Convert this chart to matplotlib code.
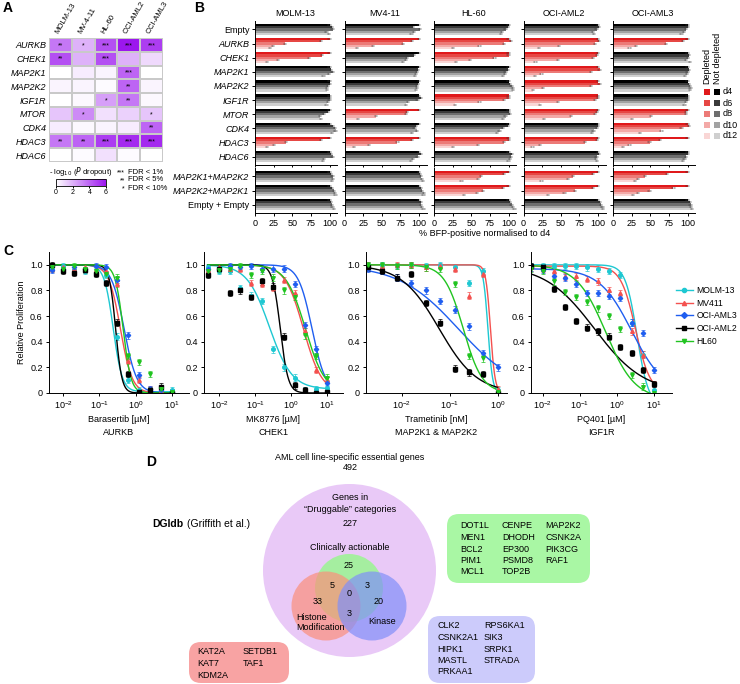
import numpy as np
import matplotlib
matplotlib.use('Agg')
from matplotlib import pyplot as plt
from matplotlib.patches import Circle, FancyBboxPatch, Rectangle
from matplotlib.lines import Line2D
from matplotlib.colors import LinearSegmentedColormap

plt.rcParams['font.family'] = ['Liberation Sans', 'DejaVu Sans']
plt.rcParams['font.size'] = 6.5
plt.rcParams['axes.linewidth'] = 0.7
plt.rcParams['xtick.major.width'] = 0.7
plt.rcParams['ytick.major.width'] = 0.7
plt.rcParams['xtick.major.size'] = 2.5
plt.rcParams['ytick.major.size'] = 2.5

# ---------------- A: heatmap data
heat_genes = ['AURKB', 'CHEK1', 'MAP2K1', 'MAP2K2', 'IGF1R', 'MTOR', 'CDK4', 'HDAC3', 'HDAC6']
heat_lines = ['MOLM-13', 'MV-4-11', 'HL-60', 'OCI-AML2', 'OCI-AML3']
heat_vals = [
    [3.5, 2.0, 4.5, 6.0, 5.0],
    [4.5, 2.0, 4.5, 2.0, 1.0],
    [0.0, 0.5, 0.3, 4.0, 0.0],
    [0.3, 0.3, 0.1, 4.0, 0.3],
    [0.0, 0.2, 2.5, 3.5, 0.2],
    [1.5, 3.0, 0.8, 1.2, 1.5],
    [0.5, 0.2, 0.3, 0.5, 4.0],
    [3.5, 4.0, 5.0, 5.5, 5.5],
    [0.0, 0.1, 0.8, 0.1, 0.0],
]
heat_stars = [
    ['**', '*', '***', '***', '***'],
    ['**', '', '***', '', ''],
    ['', '', '', '***', ''],
    ['', '', '', '**', ''],
    ['', '', '*', '**', ''],
    ['', '*', '', '', '*'],
    ['', '', '', '', '**'],
    ['**', '**', '***', '***', '***'],
    ['', '', '', '', ''],
]

# ---------------- B: BFP depletion data (d6, d8, d10, d12; d4 = 100)
b_rows = ['Empty', 'AURKB', 'CHEK1', 'MAP2K1', 'MAP2K2', 'IGF1R', 'MTOR', 'CDK4', 'HDAC3', 'HDAC6',
          'MAP2K1+MAP2K2', 'MAP2K2+MAP2K1', 'Empty + Empty']
b_italic = ['AURKB', 'CHEK1', 'MAP2K1', 'MAP2K2', 'IGF1R', 'MTOR', 'CDK4', 'HDAC3', 'HDAC6',
            'MAP2K1+MAP2K2', 'MAP2K2+MAP2K1']
b_lines = ['MOLM-13', 'MV4-11', 'HL-60', 'OCI-AML2', 'OCI-AML3']
b_days = ['d4', 'd6', 'd8', 'd10', 'd12']
b_d4 = 100
b_err = 1.5

molm13 = [[103, 104, 96, 99], [89, 40, 24, 20], [90, 72, 31, 16], [102, 104, 99, 92],
          [100, 98, 97, 97], [101, 100, 98, 96], [98, 93, 87, 89], [104, 107, 108, 103],
          [89, 42, 25, 16], [102, 104, 93, 91], [102, 104, 105, 103], [103, 106, 107, 108],
          [102, 103, 104, 106]]
mv411 = [[92, 101, 93, 90], [91, 78, 38, 17], [93, 84, 82, 78], [99, 97, 96, 95],
         [98, 97, 97, 96], [102, 98, 85, 82], [84, 82, 42, 18], [96, 94, 97, 91],
         [91, 71, 33, 13], [102, 98, 92, 89], [101, 103, 104, 105], [102, 104, 107, 106],
         [102, 103, 104, 106]]
hl60 = [[99, 96, 91, 90], [103, 94, 61, 25], [100, 81, 48, 30], [99, 96, 95, 93],
        [102, 104, 106, 106], [100, 94, 61, 28], [100, 102, 96, 93], [99, 93, 88, 84],
        [101, 94, 59, 25], [104, 103, 102, 100], [94, 63, 59, 37], [93, 66, 58, 40],
        [102, 104, 106, 108]]
ociaml2 = [[101, 98, 93, 95], [101, 96, 48, 21], [99, 93, 46, 16], [102, 91, 24, 15],
           [102, 91, 26, 13], [100, 96, 46, 22], [99, 96, 64, 28], [100, 99, 94, 92],
           [99, 82, 22, 12], [101, 98, 97, 99], [93, 66, 60, 24], [93, 69, 55, 33],
           [102, 104, 106, 107]]
ociaml3 = [[100, 98, 95, 92], [94, 71, 31, 22], [102, 101, 98, 103], [102, 100, 99, 97],
           [102, 103, 104, 103], [101, 100, 98, 96], [98, 98, 51, 25], [102, 92, 65, 36],
           [63, 49, 22, 13], [100, 98, 96, 94], [72, 43, 34, 29], [81, 49, 34, 27],
           [103, 104, 105, 106]]
b_values = [molm13, mv411, hl60, ociaml2, ociaml3]

dep_molm13 = ['AURKB', 'CHEK1', 'HDAC3']
dep_mv411 = ['AURKB', 'MTOR', 'HDAC3']
dep_hl60 = ['AURKB', 'CHEK1', 'IGF1R', 'HDAC3', 'MAP2K1+MAP2K2', 'MAP2K2+MAP2K1']
dep_ociaml2 = ['AURKB', 'CHEK1', 'MAP2K1', 'MAP2K2', 'IGF1R', 'MTOR', 'HDAC3',
               'MAP2K1+MAP2K2', 'MAP2K2+MAP2K1']
dep_ociaml3 = ['AURKB', 'MTOR', 'CDK4', 'HDAC3', 'MAP2K1+MAP2K2', 'MAP2K2+MAP2K1']
b_depleted = [dep_molm13, dep_mv411, dep_hl60, dep_ociaml2, dep_ociaml3]

red_shades = ['#e0191b', '#e64744', '#ec7a77', '#f3a9a7', '#f9d6d5']
grey_shades = ['#000000', '#3a3a3a', '#6e6e6e', '#a2a2a2', '#cfcfcf']

# ---------------- C: dose response
c_lines = ['MOLM-13', 'MV411', 'OCI-AML3', 'OCI-AML2', 'HL60']
c_colors = ['#1ec8d2', '#f4514f', '#1f5ef0', '#000000', '#21c421']
c_markers = ['o', '^', 'D', 's', 'v']

dose_uM = [0.0049, 0.0098, 0.0195, 0.039, 0.078, 0.156, 0.3125, 0.625, 1.25, 2.5, 5, 10]
dose_nM = [0.00195, 0.0039, 0.0078, 0.0156, 0.031, 0.0625, 0.125, 0.25, 0.5, 1]

barasertib_vals = [
    [0.97, 0.99, 0.96, 0.95, 0.94, 0.92, 0.44, 0.10, 0.02, 0.02, 0.02, 0.02],
    [0.97, 0.98, 0.97, 0.98, 0.96, 0.95, 0.85, 0.25, 0.10, 0.03, 0.02, 0.01],
    [0.96, 0.97, 0.98, 0.97, 0.99, 0.98, 0.88, 0.45, 0.14, 0.03, 0.02, 0.01],
    [1.00, 0.95, 0.94, 0.96, 0.93, 0.86, 0.55, 0.15, 0.01, 0.02, 0.05, 0.00],
    [0.98, 0.97, 0.99, 0.97, 0.95, 0.93, 0.90, 0.29, 0.24, 0.15, 0.03, 0.01],
]
mk8776_vals = [
    [0.98, 0.95, 0.95, 0.82, 0.76, 0.72, 0.34, 0.20, 0.12, 0.02, 0.03, 0.04],
    [0.96, 0.98, 0.97, 0.97, 0.86, 0.85, 0.82, 0.88, 0.78, 0.48, 0.18, 0.10],
    [0.97, 0.97, 0.99, 0.98, 0.99, 0.97, 0.97, 0.97, 0.85, 0.53, 0.34, 0.08],
    [0.92, 0.97, 0.78, 0.80, 0.75, 0.87, 0.83, 0.44, 0.06, 0.02, 0.00, 0.01],
    [0.95, 0.96, 0.97, 0.99, 0.92, 0.95, 0.90, 0.80, 0.75, 0.45, 0.29, 0.12],
]
trametinib_vals = [
    [1.00, 1.00, 0.99, 1.00, 0.99, 1.00, 0.98, 0.86, 0.95, 0.02],
    [1.00, 0.99, 1.00, 1.00, 0.98, 0.99, 0.97, 0.76, 0.93, 0.03],
    [0.97, 0.95, 0.90, 0.86, 0.80, 0.72, 0.65, 0.52, 0.31, 0.20],
    [0.98, 0.95, 0.90, 0.93, 0.70, 0.55, 0.19, 0.16, 0.15, 0.00],
    [1.00, 1.00, 0.99, 1.00, 0.98, 0.97, 0.85, 0.29, 0.27, 0.01],
]
pq401_vals = [
    [0.99, 0.99, 0.99, 0.99, 0.99, 0.98, 0.97, 0.95, 0.92, 0.55, 0.30, 0.02],
    [0.98, 0.97, 0.95, 0.91, 0.91, 0.89, 0.87, 0.80, 0.78, 0.48, 0.30, 0.07],
    [0.98, 0.96, 0.91, 0.90, 0.85, 0.78, 0.78, 0.76, 0.74, 0.55, 0.47, 0.18],
    [0.99, 0.98, 0.81, 0.67, 0.56, 0.51, 0.48, 0.44, 0.36, 0.31, 0.18, 0.07],
    [0.97, 0.95, 0.87, 0.79, 0.75, 0.71, 0.66, 0.60, 0.50, 0.14, 0.05, 0.00],
]
c_err = 0.025

# fitted curves: (top, bottom, IC50, hill)
barasertib_fit = [(1.0, 0.01, 0.24, 3.5), (1.0, 0.0, 0.38, 2.7), (1.0, 0.0, 0.48, 2.5),
                  (1.0, 0.0, 0.28, 5.0), (1.0, 0.0, 0.45, 4.0)]
mk8776_fit = [(1.0, 0.03, 0.25, 1.4), (1.0, 0.0, 2.2, 1.7), (1.0, 0.0, 3.8, 2.3),
              (1.0, 0.0, 0.5, 4.0), (1.0, 0.0, 2.5, 1.6)]
trametinib_fit = [(1.0, 0.0, 0.62, 9.0), (1.0, 0.0, 0.70, 9.0), (1.0, 0.0, 0.15, 0.7),
                  (1.0, 0.0, 0.06, 1.1), (1.0, 0.0, 0.19, 2.2)]
pq401_fit = [(1.0, -0.1, 3.5, 2.8), (0.99, 0.0, 3.2, 2.2), (0.97, 0.0, 2.5, 1.0),
             (1.0, 0.0, 0.25, 0.65), (1.0, -0.05, 0.5, 1.1)]

c_labels = ['Barasertib [\u00b5M]\nAURKB', 'MK8776 [\u00b5M]\nCHEK1',
            'Trametinib [nM]\nMAP2K1 & MAP2K2', 'PQ401 [\u00b5M]\nIGF1R']

# ---------------- D: Venn
venn_total = 492
venn_druggable = 227
venn_counts = {'C': 25, 'H': 33, 'K': 20, 'CH': 5, 'CK': 3, 'HK': 3, 'CHK': 0}
green_genes = [['DOT1L', 'MEN1', 'BCL2', 'PIM1', 'MCL1'],
               ['CENPE', 'DHODH', 'EP300', 'PSMD8', 'TOP2B'],
               ['MAP2K2', 'CSNK2A', 'PIK3CG', 'RAF1']]
blue_genes = [['CLK2', 'CSNK2A1', 'HIPK1', 'MASTL', 'PRKAA1'],
              ['RPS6KA1', 'SIK3', 'SRPK1', 'STRADA']]
red_genes = [['KAT2A', 'KAT7', 'KDM2A'], ['SETDB1', 'TAF1']]

W, H = 740, 684


def px(x0, y0, x1, y1):
    return [x0 / W, 1 - y1 / H, (x1 - x0) / W, (y1 - y0) / H]


fig = plt.figure(figsize=(7.4, 6.84), dpi=100)

for letter, (lx, ly) in zip('ABCD', [(3, 8), (194, 8), (3, 251), (146, 462)]):
    fig.text(lx / W, 1 - ly / H, letter, fontsize=10, fontweight='bold', va='center')

# ---------------- A
cmap = LinearSegmentedColormap.from_list('wp', ['#ffffff', '#9c17ee'])
ax = fig.add_axes(px(49, 38, 163, 162))
mesh = ax.pcolormesh(np.array(heat_vals), cmap=cmap, vmin=0, vmax=6,
                     edgecolors='#c9c9c9', linewidth=1.3)
ax.set_xlim(0, 5)
ax.set_ylim(9, 0)
for i, row in enumerate(heat_stars):
    for j, s in enumerate(row):
        if s:
            ax.text(j + 0.5, i + 0.55, s, ha='center', va='center', fontsize=5)
ax.xaxis.tick_top()
ax.set_xticks(np.arange(5) + 0.5)
ax.set_xticklabels(heat_lines, rotation=60, ha='left', rotation_mode='anchor', fontsize=5.6)
ax.set_yticks(np.arange(9) + 0.5)
ax.set_yticklabels(heat_genes, fontstyle='italic')
ax.tick_params(length=0, pad=2)
for s in ax.spines.values():
    s.set_visible(False)

cax = fig.add_axes(px(56, 179, 106, 186))
cb = fig.colorbar(mesh, cax=cax, orientation='horizontal', ticks=[0, 2, 4, 6])
cb.outline.set_linewidth(0.6)
cax.tick_params(labelsize=5, length=1.5, pad=1)
fig.text(81 / W, 1 - 172 / H, '- log$_{10}$ ($\\it{P}$ dropout)', ha='center', va='center', fontsize=5.5)
for yy, st, lab in [(172, '***', 'FDR < 1%'), (180, '**', 'FDR < 5%'), (188, '*', 'FDR < 10%')]:
    fig.text(125 / W, 1 - (yy + 1) / H, st, ha='right', va='center', fontsize=5)
    fig.text(128 / W, 1 - yy / H, lab, ha='left', va='center', fontsize=5.5)

# ---------------- B
for k, (name, vals, dep) in enumerate(zip(b_lines, b_values, b_depleted)):
    x0 = 255 + k * 89.5
    ax_t = fig.add_axes(px(x0, 21, x0 + 82, 165))
    ax_b = fig.add_axes(px(x0, 168, x0 + 82, 213))
    fig.text((x0 + 40) / W, 1 - 13 / H, name, ha='center', va='center', fontsize=6.5)
    for axx, rows in ((ax_t, list(range(0, 10))), (ax_b, list(range(10, 13)))):
        for pos, r in enumerate(rows):
            shades = red_shades if b_rows[r] in dep else grey_shades
            series = [b_d4] + vals[r]
            ys = pos - 0.4 + 0.08 + 0.16 * np.arange(5)
            axx.barh(ys, series, height=0.16, color=shades, xerr=b_err,
                     error_kw=dict(lw=0.3, capsize=0.5, capthick=0.3, ecolor='#333333'))
        axx.set_ylim(len(rows) - 0.4, -0.6)
        axx.set_xlim(0, 110)
        axx.set_xticks([0, 25, 50, 75, 100])
        axx.set_yticks(range(len(rows)))
        axx.spines['top'].set_visible(False)
        axx.spines['right'].set_visible(False)
        axx.tick_params(axis='y', length=2, pad=2)
        if k == 0:
            axx.set_yticklabels([b_rows[r] for r in rows])
            for lbl in axx.get_yticklabels():
                if lbl.get_text() in b_italic:
                    lbl.set_fontstyle('italic')
        else:
            axx.set_yticklabels([])
    ax_t.tick_params(axis='x', labelbottom=False, length=1.5)
    ax_b.tick_params(axis='x', labelsize=6.5, pad=2)
fig.text(485 / W, 1 - 233 / H, '% BFP-positive normalised to d4', ha='center', va='center', fontsize=6.5)

# legend B
axl = fig.add_axes(px(700, 30, 740, 145))
axl.set_xlim(700, 740)
axl.set_ylim(145, 30)
axl.axis('off')
axl.text(707, 84, 'Depleted', rotation=90, ha='center', va='bottom', fontsize=6.5)
axl.text(717, 84, 'Not depleted', rotation=90, ha='center', va='bottom', fontsize=6.5)
for i, d in enumerate(b_days):
    yy = 92 + i * 11
    axl.add_patch(Rectangle((704, yy - 3), 6, 6, color=red_shades[i], lw=0))
    axl.add_patch(Rectangle((714, yy - 3), 6, 6, color=grey_shades[i], lw=0))
    axl.text(723, yy, d, va='center', fontsize=6.5)

# ---------------- C
c_axes = [(49, 189, -2.39, 1.47), (204, 343, -2.42, 1.44), (366, 507, -2.75, 0.19), (531, 672, -2.32, 1.49)]
c_data = [(dose_uM, barasertib_vals, barasertib_fit), (dose_uM, mk8776_vals, mk8776_fit),
          (dose_nM, trametinib_vals, trametinib_fit), (dose_uM, pq401_vals, pq401_fit)]
for n, ((xa, xb, lo, hi), (dose, vals, fits), lab) in enumerate(zip(c_axes, c_data, c_labels)):
    ax = fig.add_axes(px(xa, 252, xb, 393))
    ax.set_xscale('log')
    xs = np.logspace(np.log10(dose[0]), np.log10(dose[-1]), 300)
    for v, (top, bot, ic50, hill), col, mk in zip(vals, fits, c_colors, c_markers):
        ys = bot + (top - bot) / (1 + (xs / ic50) ** hill)
        ax.plot(xs, ys, color=col, lw=1.0)
        ax.errorbar(dose, v, yerr=c_err, fmt=mk, ms=2.6 if mk != 'D' else 2.2, color=col,
                    elinewidth=0.5, capsize=1.2, capthick=0.5, lw=0)
    ax.set_xlim(10 ** lo, 10 ** hi)
    ax.set_ylim(0, 1.1)
    ticks = [1e-2, 1e-1, 1e0, 1e1] if hi > 1 else [1e-2, 1e-1, 1e0]
    ax.set_xticks(ticks)
    ax.xaxis.set_minor_locator(matplotlib.ticker.NullLocator())
    ax.set_yticks([0, 0.2, 0.4, 0.6, 0.8, 1.0])
    ax.set_yticklabels(['0', '0.2', '0.4', '0.6', '0.8', '1.0'])
    ax.tick_params(labelsize=6.5, pad=2)
    ax.spines['top'].set_visible(False)
    ax.spines['right'].set_visible(False)
    ax.set_xlabel(lab, fontsize=6.5, labelpad=3, linespacing=1.5)
    if n == 0:
        ax.set_ylabel('Relative Proliferation', fontsize=6.5, labelpad=3)

handles = [Line2D([], [], color=c, marker=m, ms=3, lw=1.0) for c, m in zip(c_colors, c_markers)]
fig.legend(handles, c_lines, loc='center left', bbox_to_anchor=(668 / W, 1 - 316 / H),
           frameon=False, fontsize=6.2, handlelength=2.0, labelspacing=0.45, handletextpad=0.4)

# ---------------- D
axd = fig.add_axes(px(0, 440, 740, 684))
axd.set_xlim(0, 740)
axd.set_ylim(684, 440)
axd.axis('off')
axd.text(350, 457, 'AML cell line-specific essential genes', ha='center', va='center', fontsize=6.5)
axd.text(350, 468, str(venn_total), ha='center', va='center', fontsize=6.5)
axd.add_patch(Circle((349.5, 570.5), 86.5, fc='#e9c9f7', ec='none'))
axd.text(350, 497, 'Genes in', ha='center', va='center', fontsize=6.5)
axd.text(350, 509, '\u201cDruggable\u201d categories', ha='center', va='center', fontsize=6.5)
axd.text(350, 523, str(venn_druggable), ha='center', va='center', fontsize=6.5)
axd.add_patch(Circle((349, 588), 34, fc='#89ff7b', ec='none', alpha=0.7))
axd.add_patch(Circle((326, 606), 34.5, fc='#fb8f7b', ec='none', alpha=0.7))
axd.add_patch(Circle((372, 606), 34.5, fc='#818ff9', ec='none', alpha=0.7))
axd.text(350, 548, 'Clinically actionable', ha='center', va='center', fontsize=6.5)
for key, (tx, ty) in {'C': (349, 565), 'CH': (332, 586), 'CK': (367, 586), 'CHK': (349, 594),
                      'H': (318, 601), 'K': (379, 601), 'HK': (349, 613)}.items():
    axd.text(tx, ty, str(venn_counts[key]), ha='center', va='center', fontsize=6.5)
axd.text(296, 617, 'Histone', ha='left', va='center', fontsize=6.5)
axd.text(296, 628, 'Modification', ha='left', va='center', fontsize=6.5)
axd.text(382, 621, 'Kinase', ha='center', va='center', fontsize=6.5)
axd.text(152, 524, 'DGIdb', ha='left', va='center', fontsize=7.5, fontweight='bold')
axd.text(187, 524, '(Griffith et al.)', ha='left', va='center', fontsize=7.5)


def gene_box(x0, y0, x1, y1, color, cols, col_x, row0):
    axd.add_patch(FancyBboxPatch((x0, y0), x1 - x0, y1 - y0,
                                 boxstyle='round,pad=0,rounding_size=12', fc=color, ec='none'))
    for genes, cx in zip(cols, col_x):
        for i, g in enumerate(genes):
            axd.text(cx, row0 + i * 11.5, g, ha='left', va='center', fontsize=6.5)


gene_box(447, 514, 590, 583, '#a9f7a4', green_genes, [460, 502, 545], 526)
gene_box(428, 616, 535, 683, '#cccbfb', blue_genes, [437, 484], 626)
gene_box(189, 642, 289, 683, '#f8a3a3', red_genes, [197, 243], 652)

fig.savefig('out.png', dpi=100)
